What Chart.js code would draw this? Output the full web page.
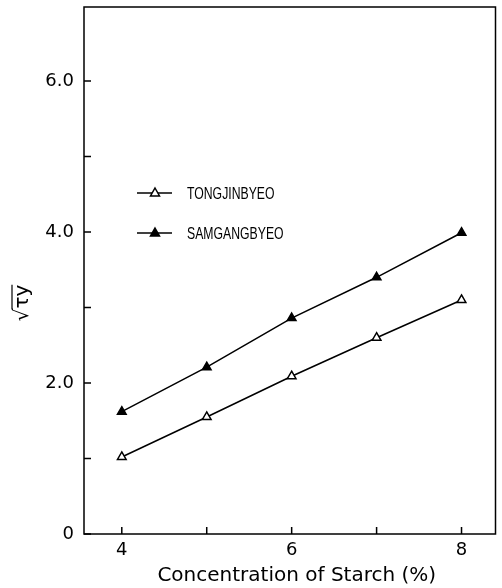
<!DOCTYPE html>
<html>
<head>
<meta charset="utf-8">
<script src="https://cdn.jsdelivr.net/npm/chart.js@4.4.1/dist/chart.umd.min.js"></script>
<style>
  body { margin: 0; background: #fff; }
  #wrap { width: 502px; height: 588px; position: relative; }
</style>
</head>
<body>
<div id="wrap"><canvas id="starchChart"></canvas></div>
<script>
// data
const concentrations = [4, 5, 6, 7, 8];
const tongjinValues = [1.02, 1.55, 2.09, 2.60, 3.10];
const samgangValues = [1.62, 2.21, 2.86, 3.40, 3.99];
const seriesNames = ["TONGJINBYEO", "SAMGANGBYEO"];

const xTickValues = [4, 5, 6, 7, 8];
const xTickLabels = ["4", "", "6", "", "8"];
const yTickValues = [0, 1, 2, 3, 4, 5, 6];
const yTickLabels = ["0", "", "2.0", "", "4.0", "", "6.0"];

const xTitle = "Concentration of Starch (%)";
const yTitle = "\u221A\u03C4y";

const tickFont = { family: "'DejaVu Sans', sans-serif", size: 18 };

// frame, inward ticks, axis titles and in-plot legend
const decorations = {
  id: "decorations",
  afterDraw(chart) {
    const ctx = chart.ctx;
    const area = chart.chartArea;
    const xs = chart.scales.x;
    const ys = chart.scales.y;
    ctx.save();
    ctx.strokeStyle = "#000";
    ctx.lineWidth = 1.5;
    ctx.strokeRect(area.left, area.top, area.right - area.left, area.bottom - area.top);

    ctx.beginPath();
    xTickValues.forEach(v => {
      const px = xs.getPixelForValue(v);
      ctx.moveTo(px, area.bottom);
      ctx.lineTo(px, area.bottom - 7);
    });
    yTickValues.forEach(v => {
      const py = ys.getPixelForValue(v);
      ctx.moveTo(area.left, py);
      ctx.lineTo(area.left + 7, py);
    });
    ctx.stroke();

    // x title
    ctx.fillStyle = "#000";
    ctx.font = "20px 'DejaVu Sans', sans-serif";
    ctx.textAlign = "center";
    ctx.textBaseline = "middle";
    ctx.fillText(xTitle, (area.left + area.right) / 2 + 7, 576);

    // y title, rotated
    ctx.save();
    ctx.translate(23, 303);
    ctx.rotate(-Math.PI / 2);
    ctx.fillText(yTitle, 0, 0);
    const w = ctx.measureText(yTitle).width;
    const rw = ctx.measureText("\u221A").width;
    ctx.lineWidth = 1.2;
    ctx.beginPath();
    ctx.moveTo(-w / 2 + rw - 1, -11);
    ctx.lineTo(w / 2, -11);
    ctx.stroke();
    ctx.restore();

    // legend
    ctx.font = "17px 'Liberation Sans', sans-serif";
    ctx.textAlign = "left";
    chart.data.datasets.forEach((ds, i) => {
      const y = 193 + i * 40;
      const x0 = area.left + 53;
      ctx.lineWidth = 1.5;
      ctx.beginPath();
      ctx.moveTo(x0, y);
      ctx.lineTo(x0 + 35, y);
      ctx.stroke();
      const cx = x0 + 18;
      const r = 5;
      ctx.beginPath();
      ctx.moveTo(cx, y - r);
      ctx.lineTo(cx + r * 0.9, y + r * 0.6);
      ctx.lineTo(cx - r * 0.9, y + r * 0.6);
      ctx.closePath();
      ctx.fillStyle = ds.pointBackgroundColor;
      ctx.fill();
      ctx.stroke();
      ctx.fillStyle = "#000";
      ctx.save();
      ctx.translate(x0 + 50, y + 1);
      ctx.scale(0.72, 1);
      ctx.fillText(ds.label, 0, 0);
      ctx.restore();
    });
    ctx.restore();
  }
};

const ctx = document.getElementById("starchChart").getContext("2d");
const chart = new Chart(ctx, {
  type: "line",
  data: {
    datasets: [
      {
        label: seriesNames[0],
        data: concentrations.map((c, i) => ({ x: c, y: tongjinValues[i] })),
        borderColor: "#000",
        borderWidth: 1.5,
        pointStyle: "triangle",
        pointRadius: 5,
        pointBorderWidth: 1.5,
        pointBackgroundColor: "#fff",
        pointBorderColor: "#000"
      },
      {
        label: seriesNames[1],
        data: concentrations.map((c, i) => ({ x: c, y: samgangValues[i] })),
        borderColor: "#000",
        borderWidth: 1.5,
        pointStyle: "triangle",
        pointRadius: 5,
        pointBorderWidth: 1.5,
        pointBackgroundColor: "#000",
        pointBorderColor: "#000"
      }
    ]
  },
  options: {
    responsive: true,
    maintainAspectRatio: false,
    animation: false,
    layout: { padding: { top: 7, right: 4, left: 0, bottom: 0 } },
    plugins: { legend: { display: false }, tooltip: { enabled: false } },
    scales: {
      x: {
        type: "linear",
        min: 3.555,
        max: 8.4,
        afterBuildTicks: s => { s.ticks = xTickValues.map(v => ({ value: v })); },
        afterFit: s => { s.height = 54; s.paddingLeft = 0; s.paddingRight = 0; },
        grid: { display: false, drawTicks: false },
        border: { display: false },
        ticks: {
          color: "#000",
          font: tickFont,
          padding: 6,
          maxRotation: 0,
          autoSkip: false,
          callback: v => xTickLabels[xTickValues.indexOf(v)]
        }
      },
      y: {
        min: 0,
        max: 6.98,
        afterBuildTicks: s => { s.ticks = yTickValues.map(v => ({ value: v })); },
        afterFit: s => { s.width = 84; s.paddingTop = 0; s.paddingBottom = 0; },
        grid: { display: false, drawTicks: false },
        border: { display: false },
        ticks: {
          color: "#000",
          font: tickFont,
          padding: 10,
          autoSkip: false,
          callback: v => yTickLabels[yTickValues.indexOf(v)]
        }
      }
    }
  },
  plugins: [decorations]
});
</script>
</body>
</html>
